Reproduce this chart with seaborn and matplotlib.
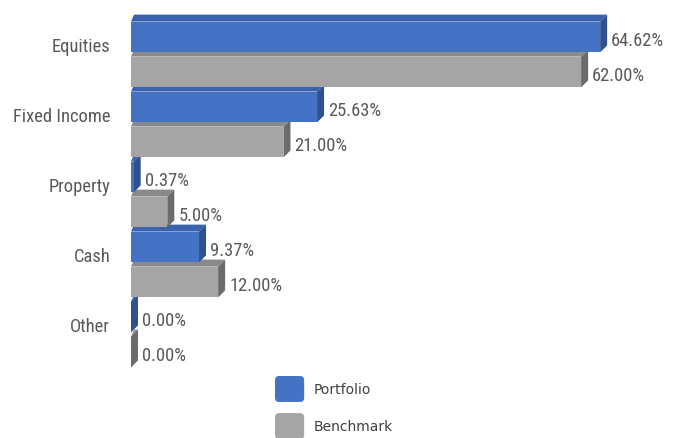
import matplotlib
matplotlib.use("Agg")
import matplotlib.pyplot as plt
import seaborn as sns
import pandas as pd
from matplotlib import font_manager
from matplotlib.patches import Polygon, Patch, FancyBboxPatch
from matplotlib.legend_handler import HandlerPatch
from matplotlib.transforms import ScaledTranslation
from matplotlib.textpath import TextPath
from matplotlib.font_manager import FontProperties

categories = ["Equities", "Fixed Income", "Property", "Cash", "Other"]
portfolio = [64.62, 25.63, 0.37, 9.37, 0.00]
benchmark = [62.00, 21.00, 5.00, 12.00, 0.00]
series = ["Portfolio", "Benchmark"]

front_colors = {"Portfolio": "#4472C4", "Benchmark": "#A5A5A5"}
top_colors = {"Portfolio": "#3A62AD", "Benchmark": "#8A8A8A"}
side_colors = {"Portfolio": "#2F528F", "Benchmark": "#6B6B6B"}

df = pd.DataFrame({
    "Category": categories * 2,
    "Value": portfolio + benchmark,
    "Series": ["Portfolio"] * len(categories) + ["Benchmark"] * len(categories),
})

sns.set_theme(style="white")

# choose a narrow font if available
fam = "Liberation Sans"
for cand in ["Liberation Sans Narrow", "Roboto Condensed", "Open Sans Condensed",
             "DejaVu Sans Condensed", "Liberation Sans"]:
    try:
        font_manager.findfont(cand, fallback_to_default=False)
        fam = cand
        break
    except Exception:
        continue
plt.rcParams["font.family"] = [fam, "DejaVu Sans"]

# size so that "Fixed Income" is about 95 px wide (at 100 dpi)
tp = TextPath((0, 0), "Fixed Income", size=10, prop=FontProperties(family=fam))
w10 = tp.get_extents().width  # in points at size 10
fs = 10 * (95 * 0.72) / w10
fs = min(fs, 14.0)

W, H = 679, 439
fig = plt.figure(figsize=(W / 100, H / 100), dpi=100)
fig.patch.set_facecolor("white")
ax = fig.add_axes([131 / W, 1 - 370.5 / H, (75 * 7.26) / W, 350 / H])

sns.barplot(data=df, y="Category", x="Value", hue="Series", hue_order=series,
            palette=front_colors, orient="h", width=1.0, gap=0.12,
            saturation=1, linewidth=0, legend=False, ax=ax)

ax.set_xlim(0, 75)
ax.set_ylim(len(categories) - 0.5, -0.5)
for s in ax.spines.values():
    s.set_visible(False)
ax.set_xticks([])
ax.set_xlabel("")
ax.set_ylabel("")
ax.tick_params(axis="y", length=0, pad=15, labelsize=fs, labelcolor="#595959")
shift = ScaledTranslation(0, 10 / 100, fig.dpi_scale_trans)
for lab in ax.get_yticklabels():
    lab.set_transform(lab.get_transform() + shift)

DX, DY, DXL = 7, 7, 3
inv = ax.transData.inverted()
label_off = ScaledTranslation(11 / 100, -3 / 100, fig.dpi_scale_trans)

for si, (name, cont) in enumerate(zip(series, ax.containers)):
    vals = portfolio if name == "Portfolio" else benchmark
    for ci, rect in enumerate(cont.patches):
        order = ci * 2 + si
        z = 50 - order * 2
        rect.set_zorder(z)
        x0 = rect.get_x()
        x1 = x0 + rect.get_width()
        ya = rect.get_y()
        yb = ya + rect.get_height()
        (X0, Ytop), (X1, Ybot) = ax.transData.transform([(x0, ya), (x1, yb)])
        if Ytop < Ybot:
            Ytop, Ybot = Ybot, Ytop
        top = [(X0, Ytop), (X1, Ytop), (X1 + DX, Ytop + DY), (X0 + DXL, Ytop + DY)]
        side = [(X1, Ytop), (X1, Ybot), (X1 + DX, Ybot + DY), (X1 + DX, Ytop + DY)]
        ax.add_patch(Polygon(inv.transform(top), closed=True, facecolor=top_colors[name],
                             edgecolor="none", zorder=z - 0.5, clip_on=False))
        ax.add_patch(Polygon(inv.transform(side), closed=True, facecolor=side_colors[name],
                             edgecolor="none", zorder=z - 0.5, clip_on=False))
        yc = ya + rect.get_height() / 2
        ax.text(x1, yc, f"{vals[ci]:.2f}%", transform=ax.transData + label_off,
                ha="left", va="center", fontsize=fs, color="#595959", zorder=60,
                clip_on=False)


def rounded(legend, orig_handle, xdescent, ydescent, width, height, fontsize):
    r = 3
    return FancyBboxPatch((-xdescent + r, -ydescent + r), width - 2 * r, height - 2 * r,
                          boxstyle=f"round,pad={r}")


handles = [Patch(facecolor=front_colors[s], edgecolor="none") for s in series]
fig.legend(handles, series, loc="upper left", bbox_to_anchor=(275 / W, 1 - 377 / H),
           frameon=False, borderpad=0, borderaxespad=0, handlelength=2.1,
           handleheight=2.5, handletextpad=0.7, labelspacing=0.8,
           prop={"family": "DejaVu Sans", "size": 10}, labelcolor="#404040",
           handler_map={Patch: HandlerPatch(patch_func=rounded)})

fig.savefig("out.png", dpi=100, facecolor="white")
